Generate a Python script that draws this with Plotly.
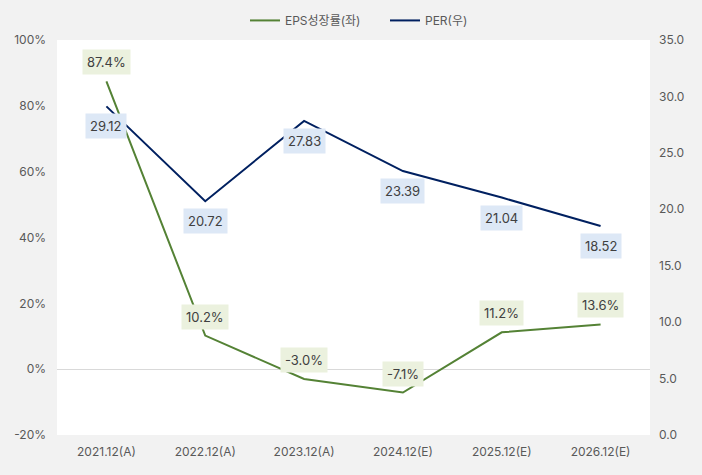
import plotly.graph_objects as go

categories = ["2021.12(A)", "2022.12(A)", "2023.12(A)", "2024.12(E)", "2025.12(E)", "2026.12(E)"]
eps_growth = [87.4, 10.2, -3.0, -7.1, 11.2, 13.6]
per = [29.12, 20.72, 27.83, 23.39, 21.04, 18.52]
eps_labels = ["87.4%", "10.2%", "-3.0%", "-7.1%", "11.2%", "13.6%"]
per_labels = ["29.12", "20.72", "27.83", "23.39", "21.04", "18.52"]
left_ticks = [-20, 0, 20, 40, 60, 80, 100]
left_tick_text = ["-20%", "0%", "20%", "40%", "60%", "80%", "100%"]
right_ticks = [0, 5, 10, 15, 20, 25, 30, 35]
right_tick_text = ["0.0", "5.0", "10.0", "15.0", "20.0", "25.0", "30.0", "35.0"]

GREEN = "#548235"
NAVY = "#002060"
FONT = "Inter, Noto Sans CJK KR, sans-serif"

fig = go.Figure()
fig.add_trace(go.Scatter(x=categories, y=eps_growth, mode="lines", name="EPS성장률(좌)",
                         line=dict(color=GREEN, width=2), yaxis="y"))
fig.add_trace(go.Scatter(x=categories, y=per, mode="lines", name="PER(우)",
                         line=dict(color=NAVY, width=2), yaxis="y2"))

annotations = []
for c, v, t in zip(categories, eps_growth, eps_labels):
    annotations.append(dict(x=c, y=v, xref="x", yref="y", text=t, showarrow=False,
                            yshift=19, bgcolor="#ebf1de", borderpad=4,
                            font=dict(size=13, color="#404040", family=FONT)))
for c, v, t in zip(categories, per, per_labels):
    annotations.append(dict(x=c, y=v, xref="x", yref="y2", text=t, showarrow=False,
                            yshift=-20, bgcolor="#dde8f6", borderpad=4,
                            font=dict(size=13, color="#404040", family=FONT)))

fig.update_layout(
    width=702, height=475,
    paper_bgcolor="#f2f2f2", plot_bgcolor="#ffffff",
    margin=dict(l=57, r=52, t=40, b=40, autoexpand=False),
    font=dict(family=FONT, size=12, color="#595959"),
    showlegend=True,
    legend=dict(orientation="h", x=0.349, xanchor="left", xref="container",
                y=0.957, yanchor="middle", yref="container",
                entrywidth=95, entrywidthmode="pixels",
                font=dict(size=12, color="#595959"), bgcolor="rgba(0,0,0,0)"),
    xaxis=dict(range=[-0.5, 5.5], showgrid=False, zeroline=False, showline=False, ticks="",
               ticklabelstandoff=8,
               tickfont=dict(size=12, color="#595959")),
    yaxis=dict(range=[-20, 100], tickvals=left_ticks, ticktext=left_tick_text, showgrid=False,
               zeroline=True, zerolinecolor="#d9d9d9", zerolinewidth=1,
               ticklabelstandoff=10,
               showline=False, ticks="", tickfont=dict(size=12, color="#595959")),
    yaxis2=dict(range=[0, 35], tickvals=right_ticks, ticktext=right_tick_text,
                overlaying="y", side="right", ticklabelstandoff=8,
                showgrid=False, zeroline=False, showline=False, ticks="",
                tickfont=dict(size=12, color="#595959")),
    annotations=annotations,
)

fig.write_html("out.html", config={"displayModeBar": False},
               post_script="document.body.style.margin='0';document.body.style.overflow='hidden';")
